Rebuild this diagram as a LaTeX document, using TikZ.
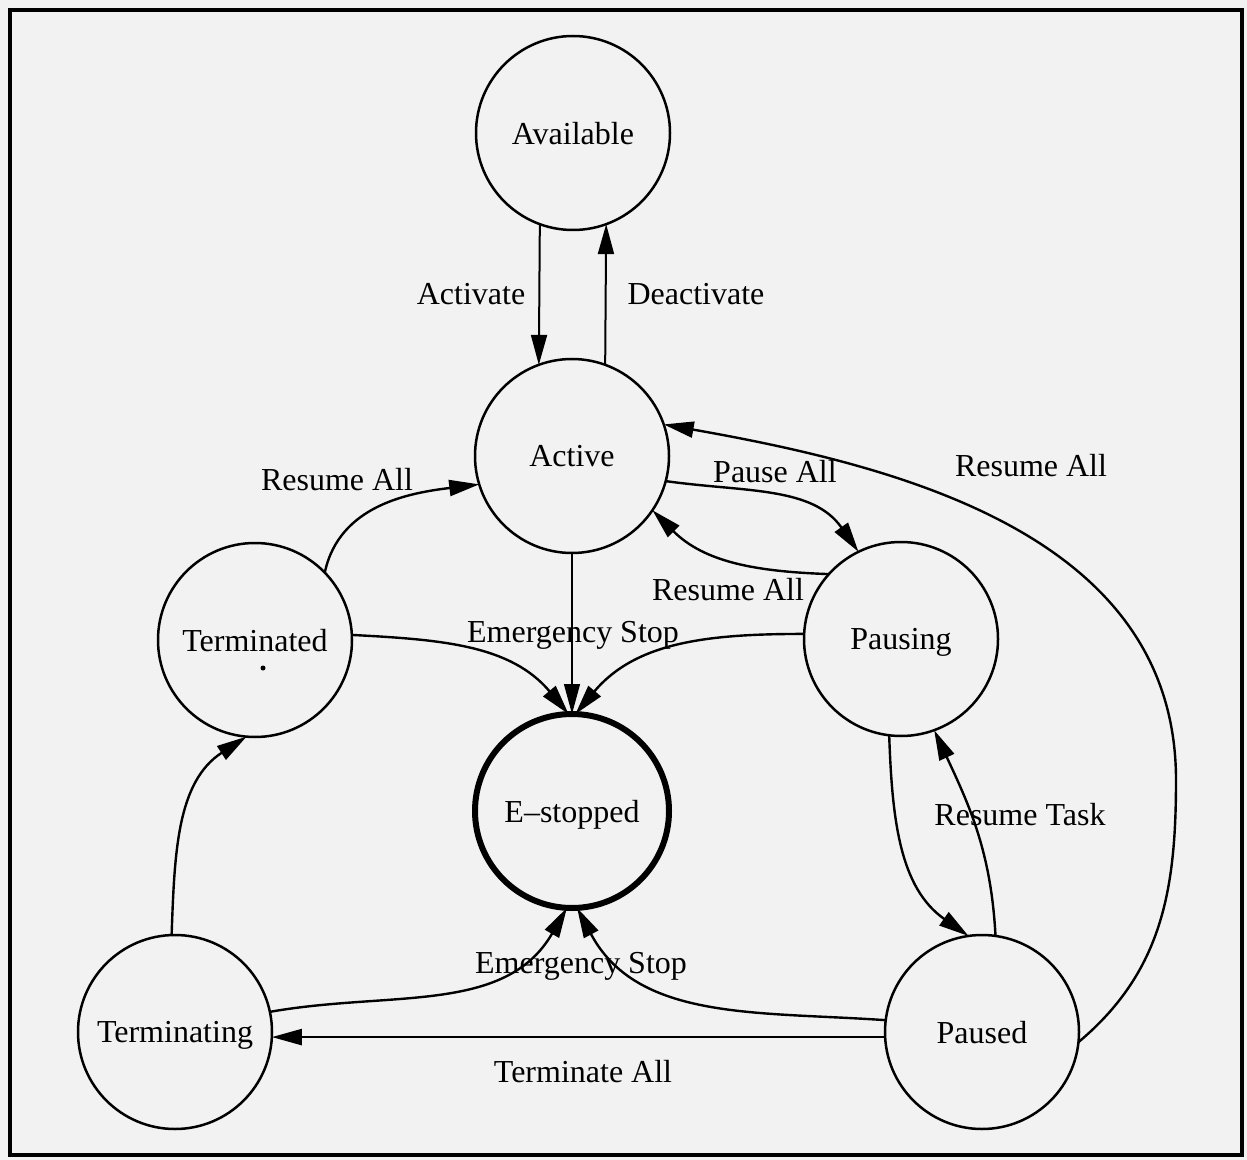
\documentclass[tikz,border=0pt]{standalone}
\usepackage{fontspec}
\setmainfont{Liberation Serif}
\usetikzlibrary{arrows.meta}
\tikzset{
  state/.style={circle, draw, line width=1.25pt, minimum size=97pt, inner sep=0pt, outer sep=0pt, text depth=0pt},
  trans/.style={line width=1.2pt, -{Triangle[length=15pt,width=8pt]}},
  lbl/.style={anchor=base, inner sep=0pt}
}
\begin{document}
\begin{tikzpicture}[x=0.5pt, y=-0.5pt, font=\fontsize{16}{19}\selectfont]
\useasboundingbox (0,0) rectangle (1247,1160);
\fill[black!5] (0,0) rectangle (1247,1160);
\draw[line width=2pt] (10,10) rectangle (1242,1155);
% states
\node[state] (avail) at (573,133) {Available};
\node[state] (active) at (572,456) {Active};
\node[state] (termd) at (255,640) {Terminated};
\node[state] (pausing) at (901,639) {Pausing};
\node[state, line width=3pt] (estop) at (572,811) {E--stopped};
\node[state] (termng) at (175,1032) {Terminating};
\node[state] (paused) at (982,1032) {Paused};
\fill (263,668) circle (2.5);
\coordinate (bend) at (1176,780);
% transitions
\draw[trans, line width=1pt] (avail.-110) -- (active.110);
\draw[trans, line width=1pt] (active.70) -- (avail.-70);
\draw[trans] (active.-15) to[out=-8, in=125] (pausing.116);
\draw[trans] (pausing.138) to[out=178, in=-45] (active.-34);
\draw[trans] (termd.44) to[out=78, in=187] (active.197);
\draw[trans] (paused.-6) to[out=40, in=-90] (bend) to[out=90, in=-10] (active.19);
\draw[trans, line width=0.6pt] (active.south) -- (estop.north);
\draw[trans] (termd.3) to[out=-3, in=130] (estop.92);
\draw[trans] (pausing.177) to[out=180, in=50] (estop.88);
\draw[trans] (termng.12) to[out=10, in=-120] (estop.-93);
\draw[trans] (paused.173) to[out=176, in=-62] (estop.-87);
\draw[trans] (paused.183) -- (termng.-3);
\draw[trans] (termng.92) to[out=88, in=213] (termd.-95);
\draw[trans] (pausing.-97) to[out=-88, in=145] (paused.98);
\draw[trans] (paused.82) to[out=93, in=-65] (pausing.-70);
% labels
\node[lbl] (lact) at (471,305) {Activate};
\node[lbl] (ldeact) at (696,305) {Deactivate};
\node[lbl] (lresterm) at (337,490) {Resume All};
\node[lbl] (lpause) at (775,482) {Pause All};
\node[lbl] (lrespausing) at (728,600) {Resume All};
\node[lbl] (lrespaused) at (1031,476) {Resume All};
\node[lbl] (lstopup) at (573,642) {Emergency Stop};
\node[lbl] (lrestask) at (1020,825) {Resume Task};
\node[lbl] (lstopdown) at (581,973) {Emergency Stop};
\node[lbl] (lterm) at (583,1082) {Terminate All};
\end{tikzpicture}
\end{document}
